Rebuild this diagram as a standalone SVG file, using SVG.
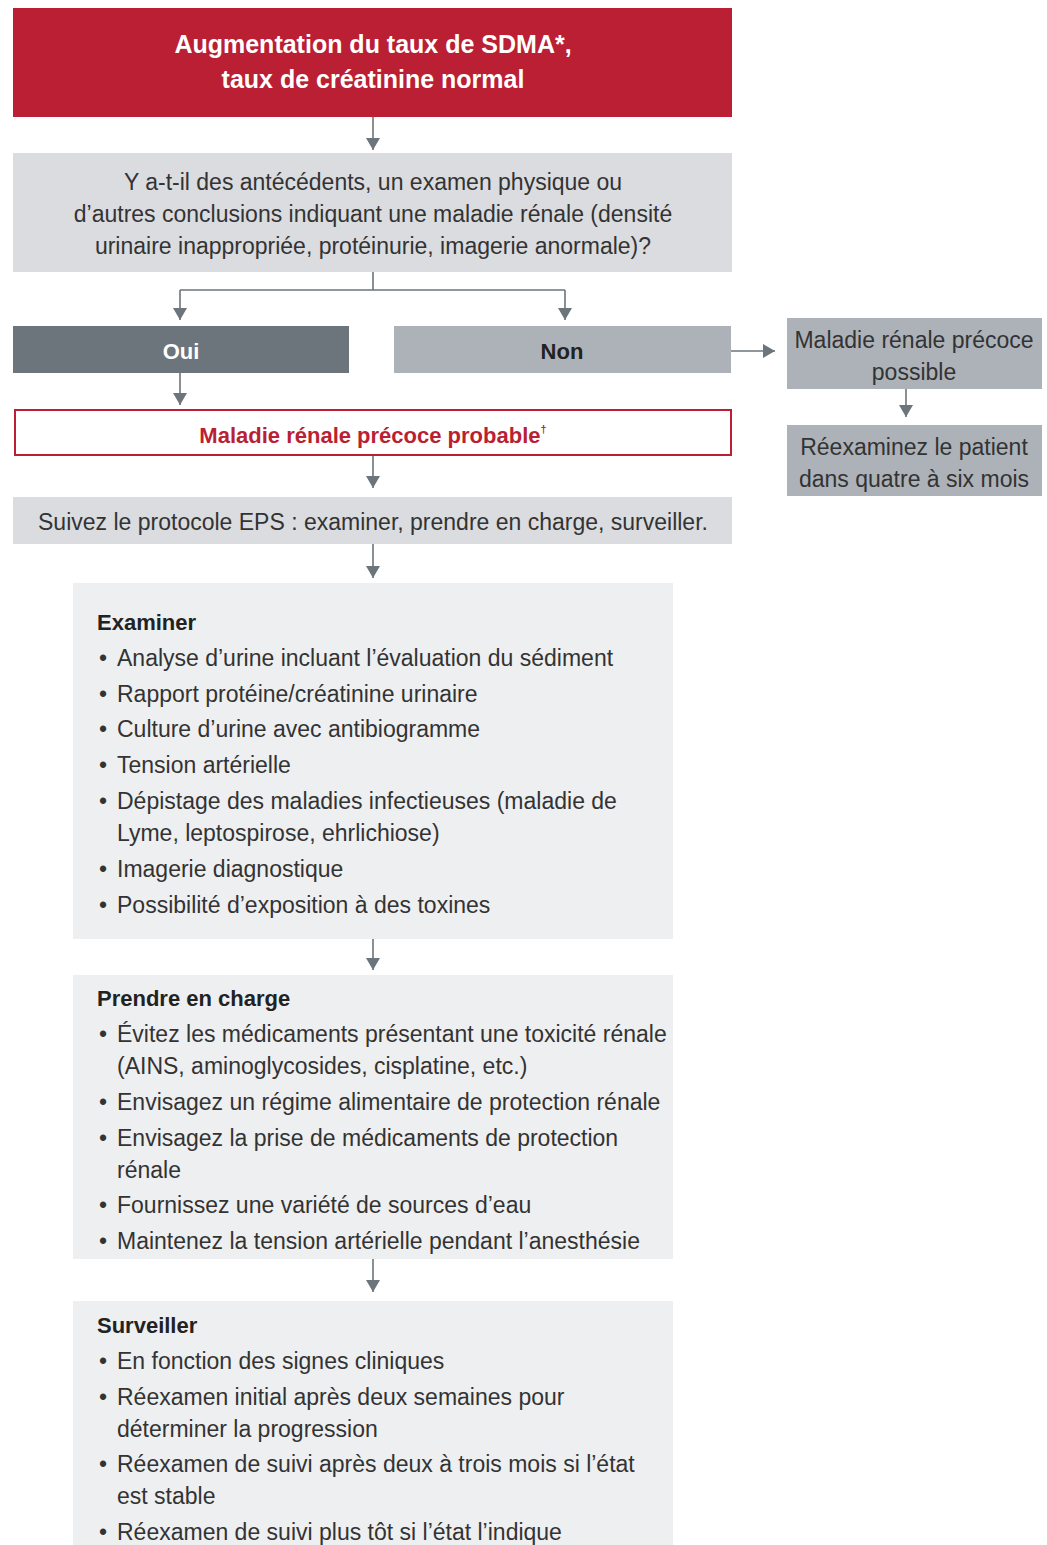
<svg xmlns="http://www.w3.org/2000/svg" width="1047" height="1545" viewBox="0 0 1047 1545">
<defs>
<marker id="ah" viewBox="0 0 12 14" refX="12" refY="7" markerWidth="12" markerHeight="14" markerUnits="userSpaceOnUse" orient="auto">
<path d="M0,0 L12,7 L0,14 Z" fill="#6b757b"/>
</marker>
<style>
text{font-family:"Liberation Sans",Arial,sans-serif;font-size:23px;fill:#333;}
.c{text-anchor:middle;}
.t{fill:#fff;font-size:25px;font-weight:bold;}
.h{font-weight:bold;fill:#222;font-size:22px;}
.w{fill:#fff;font-weight:bold;font-size:22px;}
.d{fill:#222;font-weight:bold;font-size:22px;}
.r{fill:#ba1f33;font-weight:bold;font-size:22px;}
.ln{stroke:#6b757b;stroke-width:1.6;fill:none;}
</style>
</defs>
<rect width="1047" height="1545" fill="#fff"/>
<g id="connectors">
<path class="ln" d="M373,117 V150" marker-end="url(#ah)"/>
<path class="ln" d="M373,272 V290 M180,290 H565"/>
<path class="ln" d="M180,290 V320" marker-end="url(#ah)"/>
<path class="ln" d="M565,290 V320" marker-end="url(#ah)"/>
<path class="ln" d="M180,373 V405" marker-end="url(#ah)"/>
<path class="ln" d="M731,351 H775" marker-end="url(#ah)"/>
<path class="ln" d="M906,389 V417" marker-end="url(#ah)"/>
<path class="ln" d="M373,456 V488" marker-end="url(#ah)"/>
<path class="ln" d="M373,544 V578" marker-end="url(#ah)"/>
<path class="ln" d="M373,939 V970" marker-end="url(#ah)"/>
<path class="ln" d="M373,1259 V1292" marker-end="url(#ah)"/>
</g>
<g id="start">
<rect x="13" y="8" width="719" height="109" fill="#ba1f33"/>
<text class="c t" x="373" y="53">Augmentation du taux de SDMA*,</text>
<text class="c t" x="373" y="88">taux de créatinine normal</text>
</g>
<g id="question">
<rect x="13" y="153" width="719" height="119" fill="#dadce0"/>
<text class="c" x="373" y="190">Y a-t-il des antécédents, un examen physique ou</text>
<text class="c" x="373" y="222">d’autres conclusions indiquant une maladie rénale (densité</text>
<text class="c" x="373" y="254">urinaire inappropriée, protéinurie, imagerie anormale)?</text>
</g>
<g id="oui">
<rect x="13" y="326" width="336" height="47" fill="#6b757b"/>
<text class="c w" x="181" y="359">Oui</text>
</g>
<g id="non">
<rect x="394" y="326" width="337" height="47" fill="#adb2b8"/>
<text class="c d" x="562" y="359">Non</text>
</g>
<g id="possible">
<rect x="787" y="318" width="255" height="71" fill="#adb2b8"/>
<text class="c" x="914" y="348">Maladie rénale précoce</text>
<text class="c" x="914" y="380">possible</text>
</g>
<g id="reexaminez">
<rect x="787" y="425" width="255" height="71" fill="#adb2b8"/>
<text class="c" x="914" y="455">Réexaminez le patient</text>
<text class="c" x="914" y="487">dans quatre à six mois</text>
</g>
<g id="probable">
<rect x="15" y="410" width="716" height="45" fill="#fff" stroke="#ba1f33" stroke-width="2"/>
<text class="c r" x="373" y="443">Maladie rénale précoce probable<tspan font-size="11" dy="-10">†</tspan></text>
</g>
<g id="eps">
<rect x="13" y="497" width="719" height="47" fill="#dadce0"/>
<text class="c" x="373" y="530">Suivez le protocole EPS : examiner, prendre en charge, surveiller.</text>
</g>
<g id="examiner">
<rect x="73" y="583" width="600" height="356" fill="#eeeff1"/>
<text class="h" x="97" y="630">Examiner</text>
<text x="99" y="666">•</text><text x="117" y="666">Analyse d’urine incluant l’évaluation du sédiment</text>
<text x="99" y="702">•</text><text x="117" y="702">Rapport protéine/créatinine urinaire</text>
<text x="99" y="737">•</text><text x="117" y="737">Culture d’urine avec antibiogramme</text>
<text x="99" y="773">•</text><text x="117" y="773">Tension artérielle</text>
<text x="99" y="809">•</text><text x="117" y="809">Dépistage des maladies infectieuses (maladie de</text>
<text x="117" y="841">Lyme, leptospirose, ehrlichiose)</text>
<text x="99" y="877">•</text><text x="117" y="877">Imagerie diagnostique</text>
<text x="99" y="913">•</text><text x="117" y="913">Possibilité d’exposition à des toxines</text>
</g>
<g id="prendre">
<rect x="73" y="975" width="600" height="284" fill="#eeeff1"/>
<text class="h" x="97" y="1006">Prendre en charge</text>
<text x="99" y="1042">•</text><text x="117" y="1042">Évitez les médicaments présentant une toxicité rénale</text>
<text x="117" y="1074">(AINS, aminoglycosides, cisplatine, etc.)</text>
<text x="99" y="1110">•</text><text x="117" y="1110">Envisagez un régime alimentaire de protection rénale</text>
<text x="99" y="1146">•</text><text x="117" y="1146">Envisagez la prise de médicaments de protection</text>
<text x="117" y="1178">rénale</text>
<text x="99" y="1213">•</text><text x="117" y="1213">Fournissez une variété de sources d’eau</text>
<text x="99" y="1249">•</text><text x="117" y="1249">Maintenez la tension artérielle pendant l’anesthésie</text>
</g>
<g id="surveiller">
<rect x="73" y="1301" width="600" height="244" fill="#eeeff1"/>
<text class="h" x="97" y="1333">Surveiller</text>
<text x="99" y="1369">•</text><text x="117" y="1369">En fonction des signes cliniques</text>
<text x="99" y="1405">•</text><text x="117" y="1405">Réexamen initial après deux semaines pour</text>
<text x="117" y="1437">déterminer la progression</text>
<text x="99" y="1472">•</text><text x="117" y="1472">Réexamen de suivi après deux à trois mois si l’état</text>
<text x="117" y="1504">est stable</text>
<text x="99" y="1540">•</text><text x="117" y="1540">Réexamen de suivi plus tôt si l’état l’indique</text>
</g>
</svg>
